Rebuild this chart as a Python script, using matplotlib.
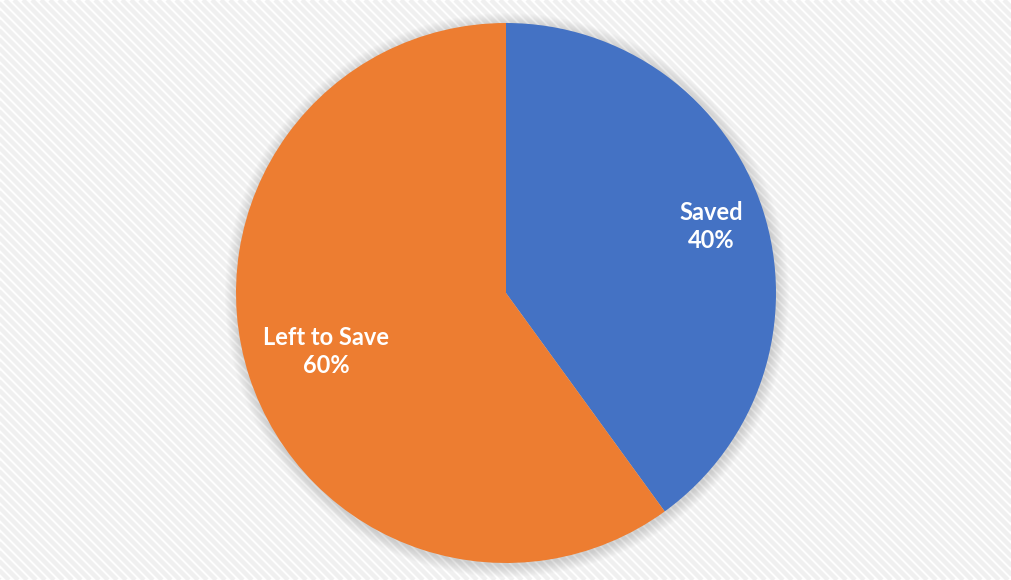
import numpy as np
import matplotlib.pyplot as plt

labels = ['Saved', 'Left to Save']
shares = [40, 60]
colors = ['#4472C4', '#ED7D31']
label_dist = [0.80, 0.70]

W, H = 1012, 580
fig = plt.figure(figsize=(W / 100, H / 100), dpi=100)
ax = fig.add_axes([0, 0, 1, 1])
ax.set_xlim(0, W)
ax.set_ylim(H, 0)
ax.set_aspect('equal')
ax.axis('off')
fig.patch.set_facecolor('white')

# diagonal stripe background
for c in np.arange(-H, W + H, 9):
    ax.plot([c, c + H], [0, H], color='#f0f0f0', lw=3.2, zorder=0,
            solid_capstyle='butt')

cx, cy, r = 506, 293, 270

# soft shadow
for i in range(12, 0, -1):
    ax.add_patch(plt.Circle((cx + 1, cy + 2), r + i, color='black',
                            alpha=0.01, lw=0, zorder=1))

# pie in its own axes so angles are standard
pax = fig.add_axes([(cx - r) / W, 1 - (cy + r) / H, 2 * r / W, 2 * r / H])
wedges, _ = pax.pie(shares, colors=colors, startangle=90, counterclock=False,
                    wedgeprops=dict(linewidth=0))
pax.set_xlim(-1, 1)
pax.set_ylim(-1, 1)
pax.set_aspect('equal')
pax.axis('off')

for w, lab, v, d in zip(wedges, labels, shares, label_dist):
    ang = np.deg2rad((w.theta1 + w.theta2) / 2)
    pax.text(d * np.cos(ang), d * np.sin(ang), f'{lab}\n{v}%',
             ha='center', va='center', color='white', fontsize=17,
             fontweight='bold', family=['Lato', 'DejaVu Sans'],
             linespacing=1.25)

fig.savefig('out.png', dpi=100)
